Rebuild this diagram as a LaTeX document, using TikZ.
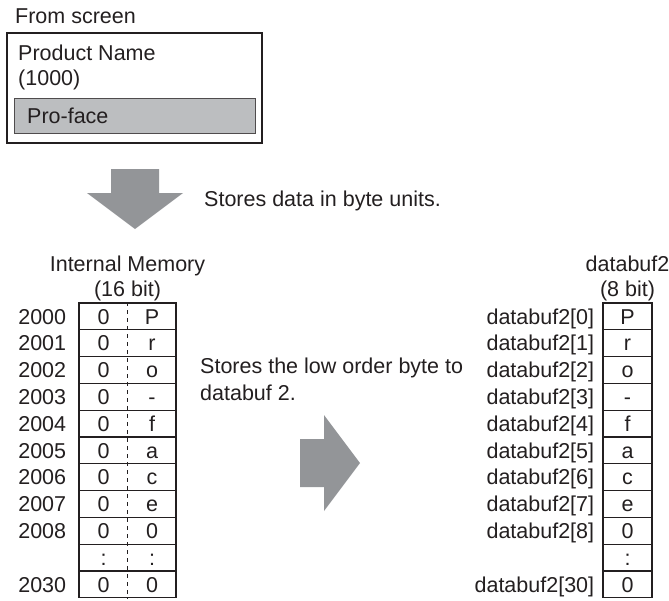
\documentclass[tikz,border=0pt]{standalone}
\usepackage{fontspec}
\setmainfont{Liberation Sans}
\usetikzlibrary{positioning}
\definecolor{Ink}{HTML}{231F20}
\definecolor{Shade}{HTML}{BCBEC0}
\definecolor{Fat}{HTML}{939598}
\tikzset{
 txt/.style={inner sep=0pt,font=\fontsize{21.5}{26}\selectfont,text=Ink,text height=15.4pt,text depth=0pt},
 cell/.style={txt,draw=Ink,line width=1.3pt,minimum height=26.8pt},
 memcell/.style={cell,minimum width=97pt},
 bufcell/.style={cell,minimum width=49pt},
 sep/.style={draw=Ink,line width=1pt,dash pattern=on 4pt off 4pt},
 frame/.style={draw=Ink,line width=1.6pt,inner sep=0pt}
}
\begin{document}
\begin{tikzpicture}[x=1pt,y=-1pt]
\useasboundingbox (0,0) rectangle (669,600);
% Screen part.
\node[txt,anchor=west] (from) at (15,16) {From screen};
\node[frame,minimum width=255pt,minimum height=110pt] (screen) at (134.5,88) {};
\node[txt,anchor=west] (pname) at (18,53) {Product Name};
\node[txt,anchor=west] (pnum) at (18,78) {(1000)};
\node[frame,draw=Ink!80,line width=1pt,fill=Shade,minimum width=241pt,minimum height=35pt] (field) at (134.5,115.5) {};
\node[txt,anchor=west] (pval) at (27,116) {Pro-face};
% Down arrow.
\fill[Fat] (111,169) -- (159,169) -- (159,193) -- (183,193) -- (135,229) -- (87,193) -- (111,193) -- cycle;
\node[txt,anchor=west] (bytes) at (204,199) {Stores data in byte units.};
% Internal memory: 16 bit words.
\node[txt] (memtitle) at (127.5,264) {Internal Memory};
\node[txt] (membits) at (127.5,289) {(16 bit)};
\foreach \i/\addr/\hi/\lo in {0/2000/0/P,1/2001/0/r,2/2002/0/o,3/2003/0/-,4/2004/0/f,5/2005/0/a,6/2006/0/c,7/2007/0/e,8/2008/0/0,9//:/:,10/2030/0/0} {
 \node[memcell] (mem\i) at (127.5,{303+26.8*(\i+.5)}) {};
 \node[txt] (memhi\i) at (103.5,{303+26.8*(\i+.5)}) {\hi};
 \node[txt] (memlo\i) at (152,{303+26.8*(\i+.5)}) {\lo};
 \node[txt,left=12pt of mem\i] (addr\i) {\addr};
}
\draw[sep] (mem0.north) -- (mem10.south);
% Right arrow.
\fill[Fat] (300,439) -- (324,439) -- (324,415) -- (360,463) -- (324,511) -- (324,487) -- (300,487) -- cycle;
\node[txt,anchor=west] (low) at (200,365.5) {Stores the low order byte to};
\node[txt,anchor=west] (lowb) at (200,393) {databuf 2.};
% databuf2: 8 bit.
\node[txt] (buftitle) at (627.5,264) {databuf2};
\node[txt] (bufbits) at (627.5,289) {(8 bit)};
\foreach \i/\idx/\val in {0/databuf2[0]/P,1/databuf2[1]/r,2/databuf2[2]/o,3/databuf2[3]/-,4/databuf2[4]/f,5/databuf2[5]/a,6/databuf2[6]/c,7/databuf2[7]/e,8/databuf2[8]/0,9//:,10/databuf2[30]/0} {
 \node[bufcell] (buf\i) at (627.5,{303+26.8*(\i+.5)}) {\val};
 \node[txt,left=8pt of buf\i] (idx\i) {\idx};
}
\end{tikzpicture}
\end{document}
